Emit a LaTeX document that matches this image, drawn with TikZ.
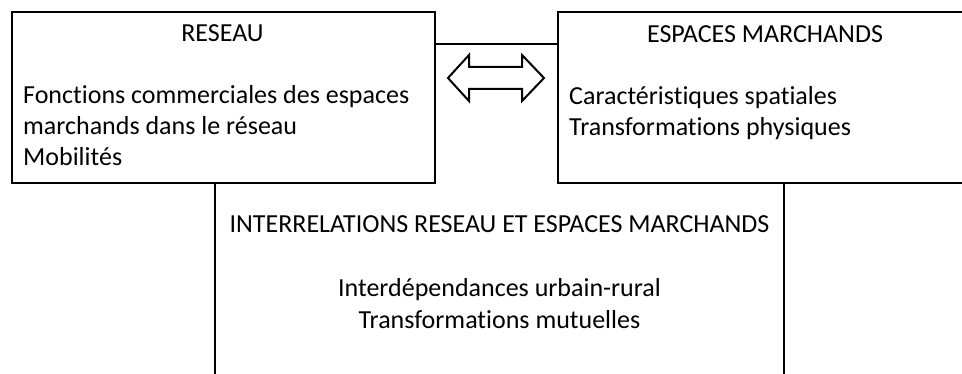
\documentclass[tikz,border=0pt]{standalone}
\usepackage{fontspec}
\setmainfont{Carlito}[Ligatures=NoCommon]
\begin{document}
\begin{tikzpicture}[x=1pt,y=-1pt,
  box/.style={draw=black,line width=2pt,fill=white},
  edge/.style={draw=black,line width=2pt},
  txt/.style={inner sep=0pt,font=\fontsize{26}{31}\selectfont},
  arr/.style={draw=black,line width=2pt,fill=white,line join=miter}]
\useasboundingbox (0,0) rectangle (962,374);
% bottom box: its top edge is hidden by the upper boxes
\node[anchor=north west,minimum width=569pt,minimum height=192.5pt,inner sep=0pt] (inter) at (215,182) {};
\draw[edge] (inter.north west) -- (inter.south west) -- (inter.south east) -- (inter.north east);
% upper boxes
\node[box,anchor=north west,minimum width=423pt,minimum height=171pt,inner sep=0pt] (reseau) at (11,11) {};
\node[box,anchor=north west,minimum width=420pt,minimum height=171pt,inner sep=0pt] (espaces) at (557,11) {};
% link between upper boxes
\draw[edge] ([yshift=-33pt]reseau.north east) -- ([yshift=-33pt]espaces.north west);
% double arrow
\path[arr] (448,78) -- (469,55) -- (469,67) -- (522,67) -- (522,55) -- (544,78)
  -- (522,101) -- (522,89) -- (469,89) -- (469,101) -- cycle;
% texts: RESEAU
\node[txt,anchor=base] (rt) at (222.5,42) {RESEAU};
\node[txt,anchor=base west] (r1) at (23,104) {Fonctions commerciales des espaces};
\node[txt,anchor=base west] (r2) at (23,135) {marchands dans le réseau};
\node[txt,anchor=base west] (r3) at (23,166) {Mobilités};
% ESPACES MARCHANDS
\node[txt,anchor=base] (et) at (765,43) {ESPACES MARCHANDS};
\node[txt,anchor=base west] (e1) at (569,105) {Caractéristiques spatiales};
\node[txt,anchor=base west] (e2) at (569,136) {Transformations physiques};
% INTERRELATIONS
\node[txt,anchor=base] (it) at (499.5,233) {INTERRELATIONS RESEAU ET ESPACES MARCHANDS};
\node[txt,anchor=base] (i1) at (499.5,297) {Interdépendances urbain-rural};
\node[txt,anchor=base] (i2) at (499.5,328) {Transformations mutuelles};
\end{tikzpicture}
\end{document}
